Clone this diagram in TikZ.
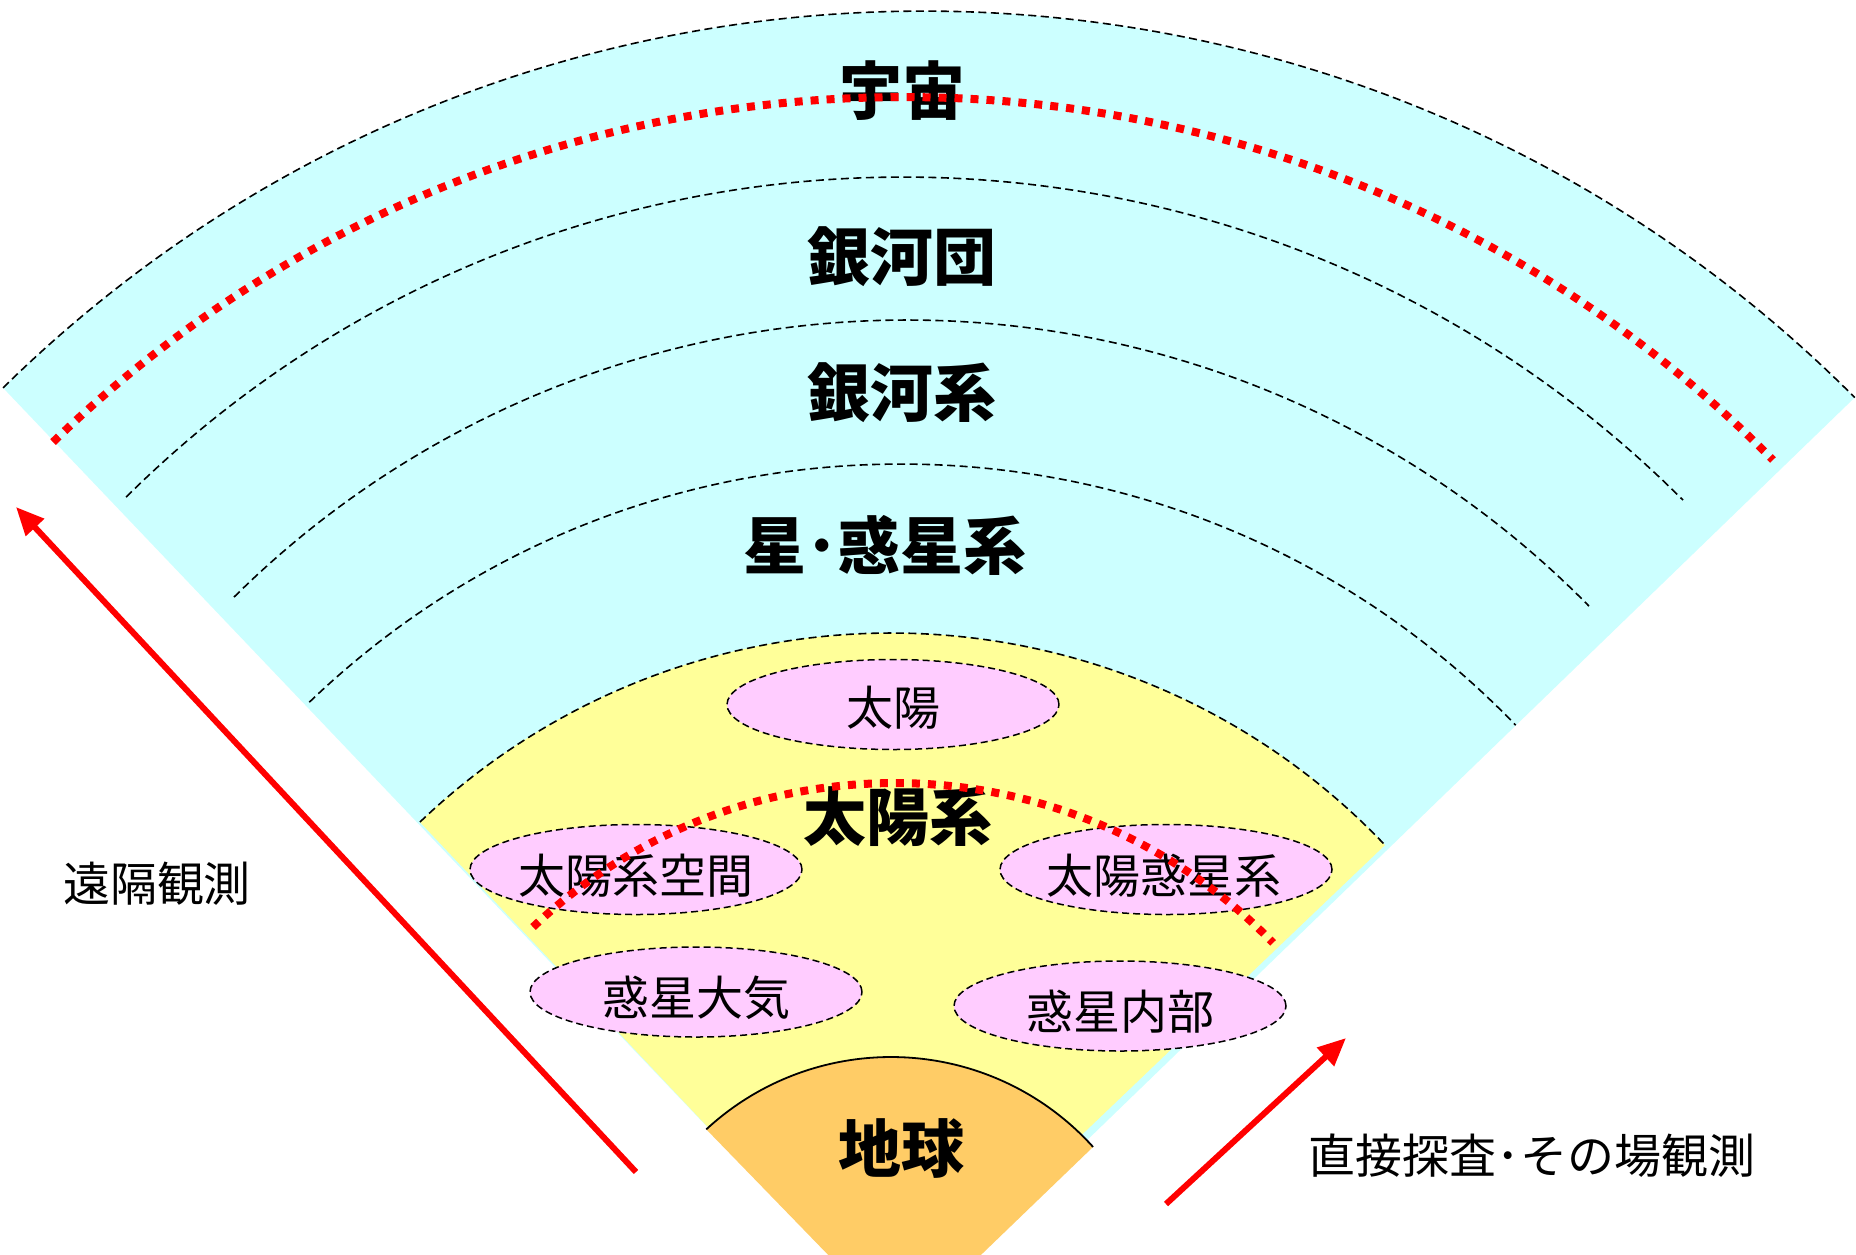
\documentclass[tikz,border=0pt]{standalone}
\usepackage{fontspec}
\newfontfamily\jp{Noto Sans CJK JP}
\usetikzlibrary{arrows.meta,shapes.geometric}
\definecolor{fancyan}{HTML}{CCFFFF}
\definecolor{fanyellow}{HTML}{FFFF99}
\definecolor{fanpink}{HTML}{FFCCFF}
\definecolor{fanorange}{HTML}{FFCC66}
\begin{document}
\begin{tikzpicture}[x=1pt,y=-1pt,
  dasharc/.style={draw=black,line width=1.6pt,dash pattern=on 8pt off 4.5pt},
  reddots/.style={draw=red,line width=8pt,dash pattern=on 8pt off 8pt},
  earthline/.style={draw=black,line width=1.8pt},
  pinkell/.style={ellipse,draw=black,fill=fanpink,line width=1.5pt,dash pattern=on 7pt off 4pt,minimum width=332pt,minimum height=90pt,inner sep=0pt},
  bigtext/.style={inner sep=0pt,font={\jp\bfseries\fontsize{63pt}{70pt}\selectfont}},
  smalltext/.style={inner sep=0pt,font={\jp\fontsize{47pt}{52pt}\selectfont}},
  redarrow/.style={draw=red,line width=6pt,-{Triangle[length=28pt,width=24pt]}},
]
\useasboundingbox (0,0) rectangle (1856,1254);
\clip (0,0) rectangle (1856,1254);
\fill[white] (0,0) rectangle (1856,1254);

% cyan sector (universe)
\fill[fancyan] (896,1325) -- ([shift={(-134.5:1314)}]924,1325) arc[start angle=-134.5,end angle=-44.9,radius=1314] -- cycle;
\draw[dasharc] ([shift={(-134.5:1314)}]924,1325) arc[start angle=-134.5,end angle=-44.9,radius=1314];
\draw[dasharc] ([shift={(-134.78:1103)}]903,1280) arc[start angle=-134.78,end angle=-45,radius=1103];
\draw[dasharc] ([shift={(-134.75:956)}]907,1276) arc[start angle=-134.75,end angle=-44.49,radius=956];
\draw[dasharc] ([shift={(-133.86:854)}]901,1318) arc[start angle=-133.86,end angle=-43.96,radius=854];

% yellow sector (solar system)
\fill[fanyellow] (889,1319) -- ([shift={(-133.73:681.5)}]891,1314.5) arc[start angle=-133.73,end angle=-43.54,radius=681.5] -- cycle;
\draw[dasharc] ([shift={(-133.73:681.5)}]891,1314.5) arc[start angle=-133.73,end angle=-43.54,radius=681.5];

% earth sector
\fill[fanorange] (902,1331) -- ([shift={(-132.77:272)}]891,1329) arc[start angle=-132.77,end angle=-42.02,radius=272] -- cycle;
\draw[earthline] ([shift={(-132.77:272)}]891,1329) arc[start angle=-132.77,end angle=-42.02,radius=272];

% ellipses
\node[pinkell] (sunE) at (893,704.5) {};
\node[pinkell] (spaceE) at (636,869.5) {};
\node[pinkell] (helioE) at (1166,869.5) {};
\node[pinkell] (atmE) at (696,992) {};
\node[pinkell] (intE) at (1120,1006) {};

% labels
\node[bigtext] (uchu) at (902,91) {宇宙};
\node[bigtext] (gingadan) at (902,257) {銀河団};
\node[bigtext] (gingakei) at (902,393) {銀河系};
\node[bigtext] (hoshi) at (885,545) {星･惑星系};
\node[bigtext] (taiyokei) at (898,817) {太陽系};
\node[bigtext] (chikyu) at (901,1148) {地球};
\node[smalltext] (taiyo) at (893,707.5) {太陽};
\node[smalltext] (kuukan) at (636,876) {太陽系空間};
\node[smalltext] (wakusei) at (1164,876) {太陽惑星系};
\node[smalltext] (taiki) at (696,998) {惑星大気};
\node[smalltext] (naibu) at (1120,1012) {惑星内部};
\node[smalltext] (enkaku) at (157,884) {遠隔観測};
\node[smalltext] (chokusetsu) at (1532,1156) {直接探査･その場観測};

% red dotted boundaries
\draw[reddots] ([shift={(-134.14:1222)}]904,1319) arc[start angle=-134.14,end angle=-44.67,radius=1222];
\draw[reddots] ([shift={(-133.39:527)}]895,1310) arc[start angle=-133.39,end angle=-44.16,radius=527];

% arrows
\coordinate (remoteTail) at (636,1172);
\coordinate (remoteTip) at (16,507);
\coordinate (insituTail) at (1166,1204);
\coordinate (insituTip) at (1346,1038);
\draw[redarrow] (remoteTail) -- (remoteTip);
\draw[redarrow] (insituTail) -- (insituTip);
\end{tikzpicture}
\end{document}
